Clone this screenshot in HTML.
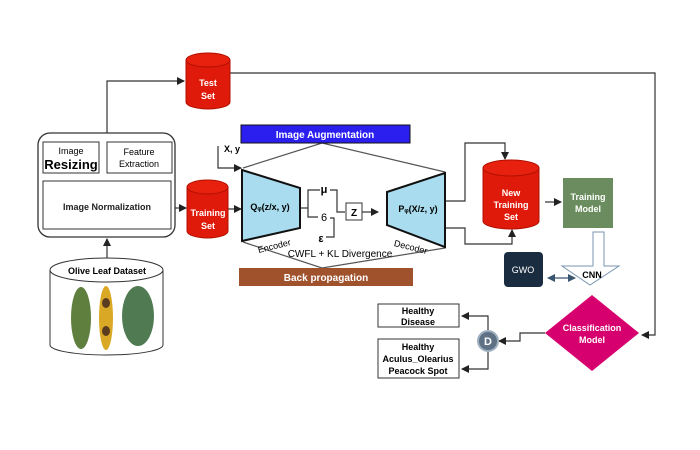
<!DOCTYPE html>
<html><head><meta charset="utf-8"><style>
html,body{margin:0;padding:0;background:#fff;width:700px;height:450px;overflow:hidden}
svg{display:block;font-family:"Liberation Sans",Arial,sans-serif}
</style></head><body>
<svg width="700" height="450" viewBox="0 0 700 450" xmlns="http://www.w3.org/2000/svg">
<defs>
<marker id="a" markerWidth="8" markerHeight="8" refX="7" refY="4" orient="auto" markerUnits="userSpaceOnUse"><path d="M0,0 L8,4 L0,8 z" fill="#222"/></marker>
<marker id="b" markerWidth="8" markerHeight="8" refX="7" refY="4" orient="auto" markerUnits="userSpaceOnUse"><path d="M0,0 L8,4 L0,8 z" fill="#3a5570"/></marker>
<marker id="bs" markerWidth="8" markerHeight="8" refX="1" refY="4" orient="auto" markerUnits="userSpaceOnUse"><path d="M8,0 L0,4 L8,8 z" fill="#3a5570"/></marker>
</defs>
<g fill="none" stroke="#333" stroke-width="1.2">
<!-- left box arrows -->
<polyline points="107,133 107,81 184,81" marker-end="url(#a)"/>
<line x1="107" y1="258" x2="107" y2="239" marker-end="url(#a)"/>
<line x1="175" y1="208" x2="186" y2="208" marker-end="url(#a)"/>
<polyline points="230,73 655,73 655,335 642,335" marker-end="url(#a)"/>
<polyline points="218,146 218,168 241,168" marker-end="url(#a)"/>
<line x1="228" y1="209" x2="241" y2="209" marker-end="url(#a)"/>
<!-- hexagon lines -->
<polyline points="243,168 322,143 445,172" stroke="#555"/>
<polyline points="243,242 322,268 445,248" stroke="#555"/>
<!-- bracket -->
<polyline points="300,208 308,208"/>
<polyline points="320,190 308,190 308,217 318,217"/>
<polyline points="330,190 337,190 337,212 345,212"/>
<polyline points="330,218 334,218 334,237 326,237"/>
<line x1="362" y1="212" x2="378" y2="212" marker-end="url(#a)"/>
<!-- decoder to new training -->
<polyline points="445,201 465,201 465,143 505,143 505,159" marker-end="url(#a)"/>
<polyline points="445,228 465,228 465,244 512,244 512,230" marker-end="url(#a)"/>
<line x1="545" y1="202" x2="561" y2="202" marker-end="url(#a)"/>
<!-- diamond to D -->
<polyline points="545,333 520,333 520,341 499,341" marker-end="url(#a)"/>
<polyline points="488,331 488,316 462,316" marker-end="url(#a)"/>
<polyline points="488,351 488,369 462,369" marker-end="url(#a)"/>
</g>
<line x1="548" y1="278" x2="575" y2="278" stroke="#3a5570" stroke-width="1.2" marker-end="url(#b)" marker-start="url(#bs)"/>
<!-- left box -->
<rect x="38" y="133" width="137" height="104" rx="12" fill="#fff" stroke="#333" stroke-width="1.3"/>
<rect x="43" y="142" width="56" height="31" fill="#fff" stroke="#333"/>
<rect x="107" y="142" width="65" height="31" fill="#fff" stroke="#333"/>
<rect x="43" y="181" width="128" height="48" fill="#fff" stroke="#333"/>
<text x="71" y="154" font-size="9" text-anchor="middle">Image</text>
<text x="71" y="169" font-size="13" font-weight="bold" text-anchor="middle">Resizing</text>
<text x="139" y="155" font-size="9" text-anchor="middle">Feature</text>
<text x="139" y="167" font-size="9" text-anchor="middle">Extraction</text>
<text x="107" y="210" font-size="9" text-anchor="middle" font-weight="bold" fill="#222">Image Normalization</text>
<!-- dataset cylinder -->
<path d="M50,270 L50,345 A56.5,10 0 0 0 163,345 L163,270" fill="#fff" stroke="#333"/>
<ellipse cx="106.5" cy="270" rx="56.5" ry="12" fill="#fff" stroke="#333"/>
<text x="107" y="274" font-size="9" font-weight="bold" text-anchor="middle">Olive Leaf Dataset</text>
<ellipse cx="81" cy="318" rx="10" ry="31" fill="#5f7f3e"/>
<ellipse cx="106" cy="318" rx="7" ry="32" fill="#d9a825"/>
<ellipse cx="106" cy="303" rx="4" ry="5" fill="#5a3d20"/>
<ellipse cx="106" cy="331" rx="4" ry="5" fill="#5a3d20"/>
<ellipse cx="138" cy="316" rx="16" ry="30" fill="#4f7a52"/>
<!-- cylinders red -->
<g fill="#e01a0a" stroke="#b01000">
<path d="M186,60 L186,102 A22,7 0 0 0 230,102 L230,60 Z"/><ellipse cx="208" cy="60" rx="22" ry="7" fill="#e8210f"/>
<path d="M187,187 L187,231 A20.5,7 0 0 0 228,231 L228,187 Z"/><ellipse cx="207.5" cy="187" rx="20.5" ry="7" fill="#e8210f"/>
<path d="M483,168 L483,221 A28,8 0 0 0 539,221 L539,168 Z"/><ellipse cx="511" cy="168" rx="28" ry="8" fill="#e8210f"/>
</g>
<g fill="#fff" font-size="9" font-weight="bold" text-anchor="middle">
<text x="208" y="86">Test</text><text x="208" y="99">Set</text>
<text x="208" y="216">Training</text><text x="208" y="229">Set</text>
<text x="511" y="196">New</text><text x="511" y="208">Training</text><text x="511" y="220">Set</text>
</g>
<!-- bars -->
<rect x="241" y="125" width="169" height="18" fill="#2b1ff0" stroke="#111"/>
<text x="325" y="138" font-size="10" font-weight="bold" fill="#fff" text-anchor="middle">Image Augmentation</text>
<rect x="239" y="268" width="174" height="18" fill="#a0522d"/>
<text x="326" y="281" font-size="10" font-weight="bold" fill="#fff" text-anchor="middle">Back propagation</text>
<!-- encoder/decoder -->
<polygon points="242,170 300,188 300,228 242,241" fill="#a8dcee" stroke="#111" stroke-width="2"/>
<polygon points="387,192 445,173 445,247 387,225" fill="#a8dcee" stroke="#111" stroke-width="2"/>
<text x="270" y="210" font-size="9" font-weight="bold" text-anchor="middle">Qᵩ(z/x, y)</text>
<text x="418" y="212" font-size="9" font-weight="bold" text-anchor="middle">Pᵩ(X/z, y)</text>
<text x="275" y="249" font-size="9" transform="rotate(-14 275 249)" text-anchor="middle">Encoder</text>
<text x="410" y="250" font-size="9" transform="rotate(14 410 250)" text-anchor="middle">Decoder</text>
<text x="340" y="257" font-size="10" text-anchor="middle">CWFL + KL Divergence</text>
<text x="224" y="152" font-size="9" font-weight="bold">X, y</text>
<text x="324" y="193" font-size="11" font-weight="bold" text-anchor="middle">μ</text>
<text x="324" y="221" font-size="11" text-anchor="middle">6</text>
<text x="321" y="242" font-size="11" font-weight="bold" text-anchor="middle">ε</text>
<rect x="346" y="203" width="16" height="17" fill="#fff" stroke="#333"/>
<text x="354" y="216" font-size="10" font-weight="bold" text-anchor="middle">Z</text>
<!-- training model -->
<rect x="563" y="178" width="50" height="50" fill="#6b8c5e"/>
<text x="588" y="200" font-size="9" font-weight="bold" fill="#fff" text-anchor="middle">Training</text>
<text x="588" y="212" font-size="9" font-weight="bold" fill="#fff" text-anchor="middle">Model</text>
<polygon points="593,232 604,232 604,266 619,266 590,285 562,266 593,266" fill="#fff" stroke="#7a95b0"/>
<text x="592" y="278" font-size="9" font-weight="bold" text-anchor="middle">CNN</text>
<rect x="504" y="252" width="39" height="35" rx="4" fill="#1a2d40"/>
<text x="523" y="273" font-size="9" fill="#fff" text-anchor="middle">GWO</text>
<!-- diamond -->
<polygon points="592,295 639,333 592,371 545,333" fill="#d6006e"/>
<text x="592" y="331" font-size="9" font-weight="bold" fill="#fff" text-anchor="middle">Classification</text>
<text x="592" y="343" font-size="9" font-weight="bold" fill="#fff" text-anchor="middle">Model</text>
<circle cx="488" cy="341" r="10" fill="#5e7185" stroke="#a0b0c0" stroke-width="2"/>
<text x="488" y="345" font-size="11" font-weight="bold" fill="#fff" text-anchor="middle">D</text>
<rect x="378" y="304" width="81" height="23" fill="#fff" stroke="#333"/>
<text x="418" y="314" font-size="9" font-weight="bold" text-anchor="middle">Healthy</text>
<text x="418" y="325" font-size="9" font-weight="bold" text-anchor="middle">Disease</text>
<rect x="378" y="339" width="81" height="39" fill="#fff" stroke="#333"/>
<text x="418" y="350" font-size="9" font-weight="bold" text-anchor="middle">Healthy</text>
<text x="418" y="362" font-size="9" font-weight="bold" text-anchor="middle">Aculus_Olearius</text>
<text x="418" y="374" font-size="9" font-weight="bold" text-anchor="middle">Peacock Spot</text>
</svg>
</body></html>
